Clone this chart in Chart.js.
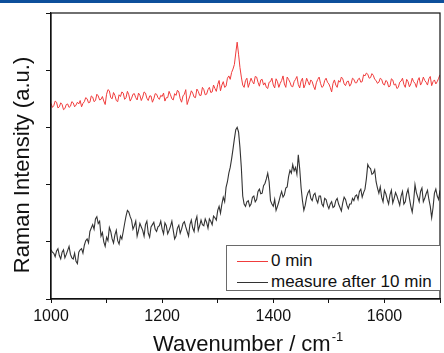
<!DOCTYPE html>
<html>
<head>
<meta charset="utf-8">
<script src="https://cdn.jsdelivr.net/npm/chart.js@4"></script>
<style>
  body { margin: 0; background: #fff; font-family: "Liberation Sans", Arial, sans-serif; }
  #wrap { position: relative; width: 444px; height: 353px; }
  #topbar { position: absolute; left: 0; top: 0; width: 444px; height: 3px; background: #0d4f9b; }
  #legend { position: absolute; left: 226px; top: 245px; width: 213px; height: 44px;
            border: 1px solid #6a6a6a; background: #fff; }
  .swatch { position: absolute; left: 10px; width: 31px; height: 0; border-top: 1px solid; }
  .ltext { position: absolute; left: 44px; font-size: 17px; line-height: 18px; color: #111; white-space: nowrap; }
</style>
</head>
<body>
<div id="wrap">
  <canvas id="ramanChart" width="444" height="353"></canvas>
  <div id="topbar"></div>
  <div id="legend">
    <div class="swatch" style="top:15px;border-color:rgb(240,60,60)"></div>
    <div class="ltext" style="top:6px">0 min</div>
    <div class="swatch" style="top:36px;border-color:#333"></div>
    <div class="ltext" style="top:27px">measure after 10 min</div>
  </div>
</div>
<script>
// Spectres Raman : 1000 -> 1700 cm-1, un point tous les 2.5 cm-1
const waveStart = 1000;
const waveStep = 2.5;
const xTicks = [1000, 1200, 1400, 1600];
const seriesNames = ['0 min', 'measure after 10 min'];

const red0min = [
    3.42, 3.35, 3.38, 3.46, 3.44, 3.34, 3.36, 3.43, 3.40, 3.31, 3.33, 3.40, 3.41, 3.35, 3.37, 3.45, 3.43, 3.36, 3.39, 3.44,
    3.41, 3.47, 3.36, 3.42, 3.45, 3.52, 3.50, 3.43, 3.44, 3.55, 3.53, 3.45, 3.47, 3.58, 3.55, 3.48, 3.49, 3.54, 3.46, 3.40,
    3.58, 3.66, 3.64, 3.52, 3.50, 3.61, 3.56, 3.47, 3.45, 3.57, 3.54, 3.62, 3.60, 3.49, 3.52, 3.63, 3.57, 3.46, 3.51, 3.58,
    3.59, 3.52, 3.48, 3.60, 3.56, 3.47, 3.53, 3.62, 3.60, 3.51, 3.47, 3.55, 3.55, 3.44, 3.50, 3.59, 3.58, 3.52, 3.49, 3.56,
    3.54, 3.60, 3.46, 3.52, 3.52, 3.63, 3.57, 3.50, 3.48, 3.59, 3.56, 3.65, 3.62, 3.50, 3.44, 3.55, 3.58, 3.66, 3.40, 3.48,
    3.55, 3.64, 3.60, 3.53, 3.52, 3.67, 3.63, 3.56, 3.56, 3.70, 3.66, 3.57, 3.58, 3.66, 3.70, 3.61, 3.62, 3.74, 3.68, 3.63,
    3.75, 3.82, 3.64, 3.74, 3.80, 3.70, 3.72, 3.86, 3.90, 3.84, 3.96, 4.02, 4.10, 4.30, 4.49, 4.28, 4.05, 3.88, 3.74, 3.70,
    3.82, 3.86, 3.70, 3.78, 3.86, 3.80, 3.76, 3.89, 3.88, 3.79, 3.72, 3.83, 3.84, 3.74, 3.78, 3.70, 3.68, 3.79, 3.80, 3.86,
    3.74, 3.69, 3.85, 3.80, 3.70, 3.77, 3.82, 3.90, 3.76, 3.70, 3.88, 3.84, 3.79, 3.72, 3.71, 3.80, 3.84, 3.89, 3.75, 3.69,
    3.81, 3.86, 3.69, 3.75, 3.86, 3.80, 3.74, 3.83, 3.80, 3.72, 3.66, 3.78, 3.84, 3.88, 3.77, 3.70, 3.72, 3.82, 3.86, 3.79,
    3.76, 3.70, 3.62, 3.77, 3.83, 3.74, 3.70, 3.82, 3.79, 3.88, 3.85, 3.76, 3.73, 3.80, 3.81, 3.72, 3.76, 3.86, 3.84, 3.78,
    3.78, 3.84, 3.86, 3.79, 3.80, 3.92, 3.90, 3.95, 3.93, 3.86, 3.87, 3.94, 3.91, 3.84, 3.82, 3.77, 3.79, 3.86, 3.84, 3.76,
    3.74, 3.82, 3.80, 3.71, 3.72, 3.85, 3.83, 3.74, 3.76, 3.68, 3.70, 3.79, 3.81, 3.86, 3.75, 3.70, 3.84, 3.80, 3.71, 3.76,
    3.86, 3.80, 3.77, 3.70, 3.82, 3.87, 3.74, 3.79, 3.88, 3.82, 3.79, 3.74, 3.85, 3.89, 3.73, 3.80, 3.83, 3.76, 3.80, 3.86,
    3.92
];

const black10min = [
    0.86, 0.82, 0.80, 0.74, 0.84, 0.88, 0.76, 0.70, 0.82, 0.86, 0.72, 0.78, 0.85, 0.92, 0.78, 0.72, 0.70, 0.80, 0.66, 0.62,
    0.82, 0.86, 0.88, 0.80, 0.94, 1.02, 1.05, 0.98, 1.18, 1.24, 1.30, 1.22, 1.40, 1.44, 1.32, 1.36, 1.10, 1.16, 1.00, 0.92,
    1.08, 1.02, 1.25, 1.18, 1.05, 0.98, 1.12, 1.20, 1.02, 0.96, 1.10, 1.05, 1.18, 1.32, 1.45, 1.55, 1.52, 1.44, 1.38, 1.22,
    1.28, 1.36, 1.10, 1.20, 1.32, 1.26, 1.20, 1.10, 1.30, 1.36, 1.15, 1.08, 1.26, 1.30, 1.34, 1.22, 1.18, 1.26, 1.28, 1.36,
    1.22, 1.14, 1.33, 1.28, 1.14, 1.20, 1.27, 1.36, 1.20, 1.05, 1.10, 1.24, 1.29, 1.15, 1.22, 1.32, 1.35, 1.26, 1.18, 1.10,
    1.30, 1.38, 1.24, 1.18, 1.36, 1.44, 1.20, 1.28, 1.38, 1.30, 1.28, 1.40, 1.34, 1.24, 1.40, 1.36, 1.30, 1.45, 1.42, 1.38,
    1.55, 1.62, 1.50, 1.66, 1.78, 1.70, 1.95, 2.05, 2.20, 2.30, 2.45, 2.62, 2.80, 2.96, 3.00, 2.92, 2.65, 2.30, 1.80, 1.66,
    1.62, 1.70, 1.72, 1.62, 1.66, 1.78, 1.80, 1.70, 1.74, 1.88, 1.92, 1.84, 1.85, 1.98, 2.02, 2.10, 2.20, 2.05, 1.72, 1.66,
    1.62, 1.74, 1.55, 1.62, 1.70, 1.80, 1.88, 1.78, 1.82, 1.94, 1.96, 2.14, 2.25, 2.20, 2.35, 2.24, 2.30, 2.18, 2.52, 2.28,
    1.95, 1.72, 1.55, 1.64, 1.78, 1.86, 1.90, 1.76, 1.72, 1.82, 1.85, 1.74, 1.68, 1.80, 1.80, 1.66, 1.62, 1.76, 1.74, 1.64,
    1.58, 1.66, 1.70, 1.60, 1.62, 1.72, 1.76, 1.66, 1.60, 1.54, 1.68, 1.78, 1.74, 1.64, 1.58, 1.66, 1.66, 1.76, 1.72, 1.80,
    1.82, 1.74, 1.88, 1.92, 1.78, 1.86, 1.92, 2.10, 2.35, 2.30, 2.28, 2.18, 2.20, 2.26, 2.05, 1.94, 1.85, 1.96, 1.78, 1.70,
    1.90, 1.84, 1.74, 1.66, 1.82, 1.90, 1.68, 1.76, 1.86, 1.80, 1.72, 1.64, 1.80, 1.88, 1.66, 1.70, 1.84, 1.92, 1.76, 1.62,
    1.52, 1.70, 2.00, 1.86, 1.78, 1.70, 1.88, 1.94, 1.70, 1.76, 1.84, 1.90, 1.74, 1.62, 1.42, 1.60, 1.85, 1.92, 1.80, 1.74,
    1.90
];

function toPoints(values) {
    return values.map((v, i) => ({ x: waveStart + i * waveStep, y: v }));
}

// cadre + titres d'axes dessinés à la main
const framePlugin = {
    id: 'frame',
    afterDraw(chart) {
        const { ctx, chartArea } = chart;
        ctx.save();
        ctx.strokeStyle = '#111';
        ctx.lineWidth = 1.2;
        ctx.strokeRect(chartArea.left, chartArea.top, chartArea.right - chartArea.left, chartArea.bottom - chartArea.top);

        ctx.fillStyle = '#111';
        ctx.font = '22px "Liberation Sans", Arial, sans-serif';
        ctx.textBaseline = 'alphabetic';
        ctx.textAlign = 'left';
        const main = 'Wavenumber / cm';
        ctx.fillText(main, 153, 351);
        const w = ctx.measureText(main).width;
        ctx.font = '13px "Liberation Sans", Arial, sans-serif';
        ctx.fillText('-1', 153 + w + 1, 341);

        ctx.translate(29, 165);
        ctx.rotate(-Math.PI / 2);
        ctx.font = '22px "Liberation Sans", Arial, sans-serif';
        ctx.textAlign = 'center';
        ctx.fillText('Raman Intensity (a.u.)', 0, 0);
        ctx.restore();
    }
};

new Chart(document.getElementById('ramanChart').getContext('2d'), {
    type: 'line',
    data: {
        datasets: [
            {
                label: seriesNames[0],
                data: toPoints(red0min),
                borderColor: 'rgb(240,60,60)',
                borderWidth: 1,
                pointRadius: 0,
                tension: 0
            },
            {
                label: seriesNames[1],
                data: toPoints(black10min),
                borderColor: '#333',
                borderWidth: 1.1,
                pointRadius: 0,
                tension: 0
            }
        ]
    },
    options: {
        responsive: false,
        animation: false,
        events: [],
        layout: { padding: { top: 13, right: 1, left: 0, bottom: 0 } },
        plugins: {
            legend: { display: false },
            tooltip: { enabled: false }
        },
        scales: {
            x: {
                type: 'linear',
                min: 1000,
                max: 1700,
                afterFit: function(scale) { scale.height = 54; },
                border: { display: true, color: '#111', width: 1.2 },
                grid: { display: true, drawOnChartArea: false, drawTicks: true, tickLength: 4, color: '#111' },
                ticks: {
                    stepSize: 100,
                    padding: 4,
                    color: '#111',
                    maxRotation: 0,
                    font: { family: '"Liberation Sans", Arial, sans-serif', size: 16 },
                    callback: function(value) {
                        return xTicks.includes(value) ? String(value) : '';
                    }
                }
            },
            y: {
                min: 0,
                max: 5,
                afterFit: function(scale) { scale.width = 51; },
                border: { display: true, color: '#111', width: 1.2 },
                grid: { display: true, drawOnChartArea: false, drawTicks: true, tickLength: 5, color: '#111' },
                ticks: {
                    stepSize: 1,
                    callback: function() { return ''; }
                }
            }
        }
    },
    plugins: [framePlugin]
});
</script>
</body>
</html>
